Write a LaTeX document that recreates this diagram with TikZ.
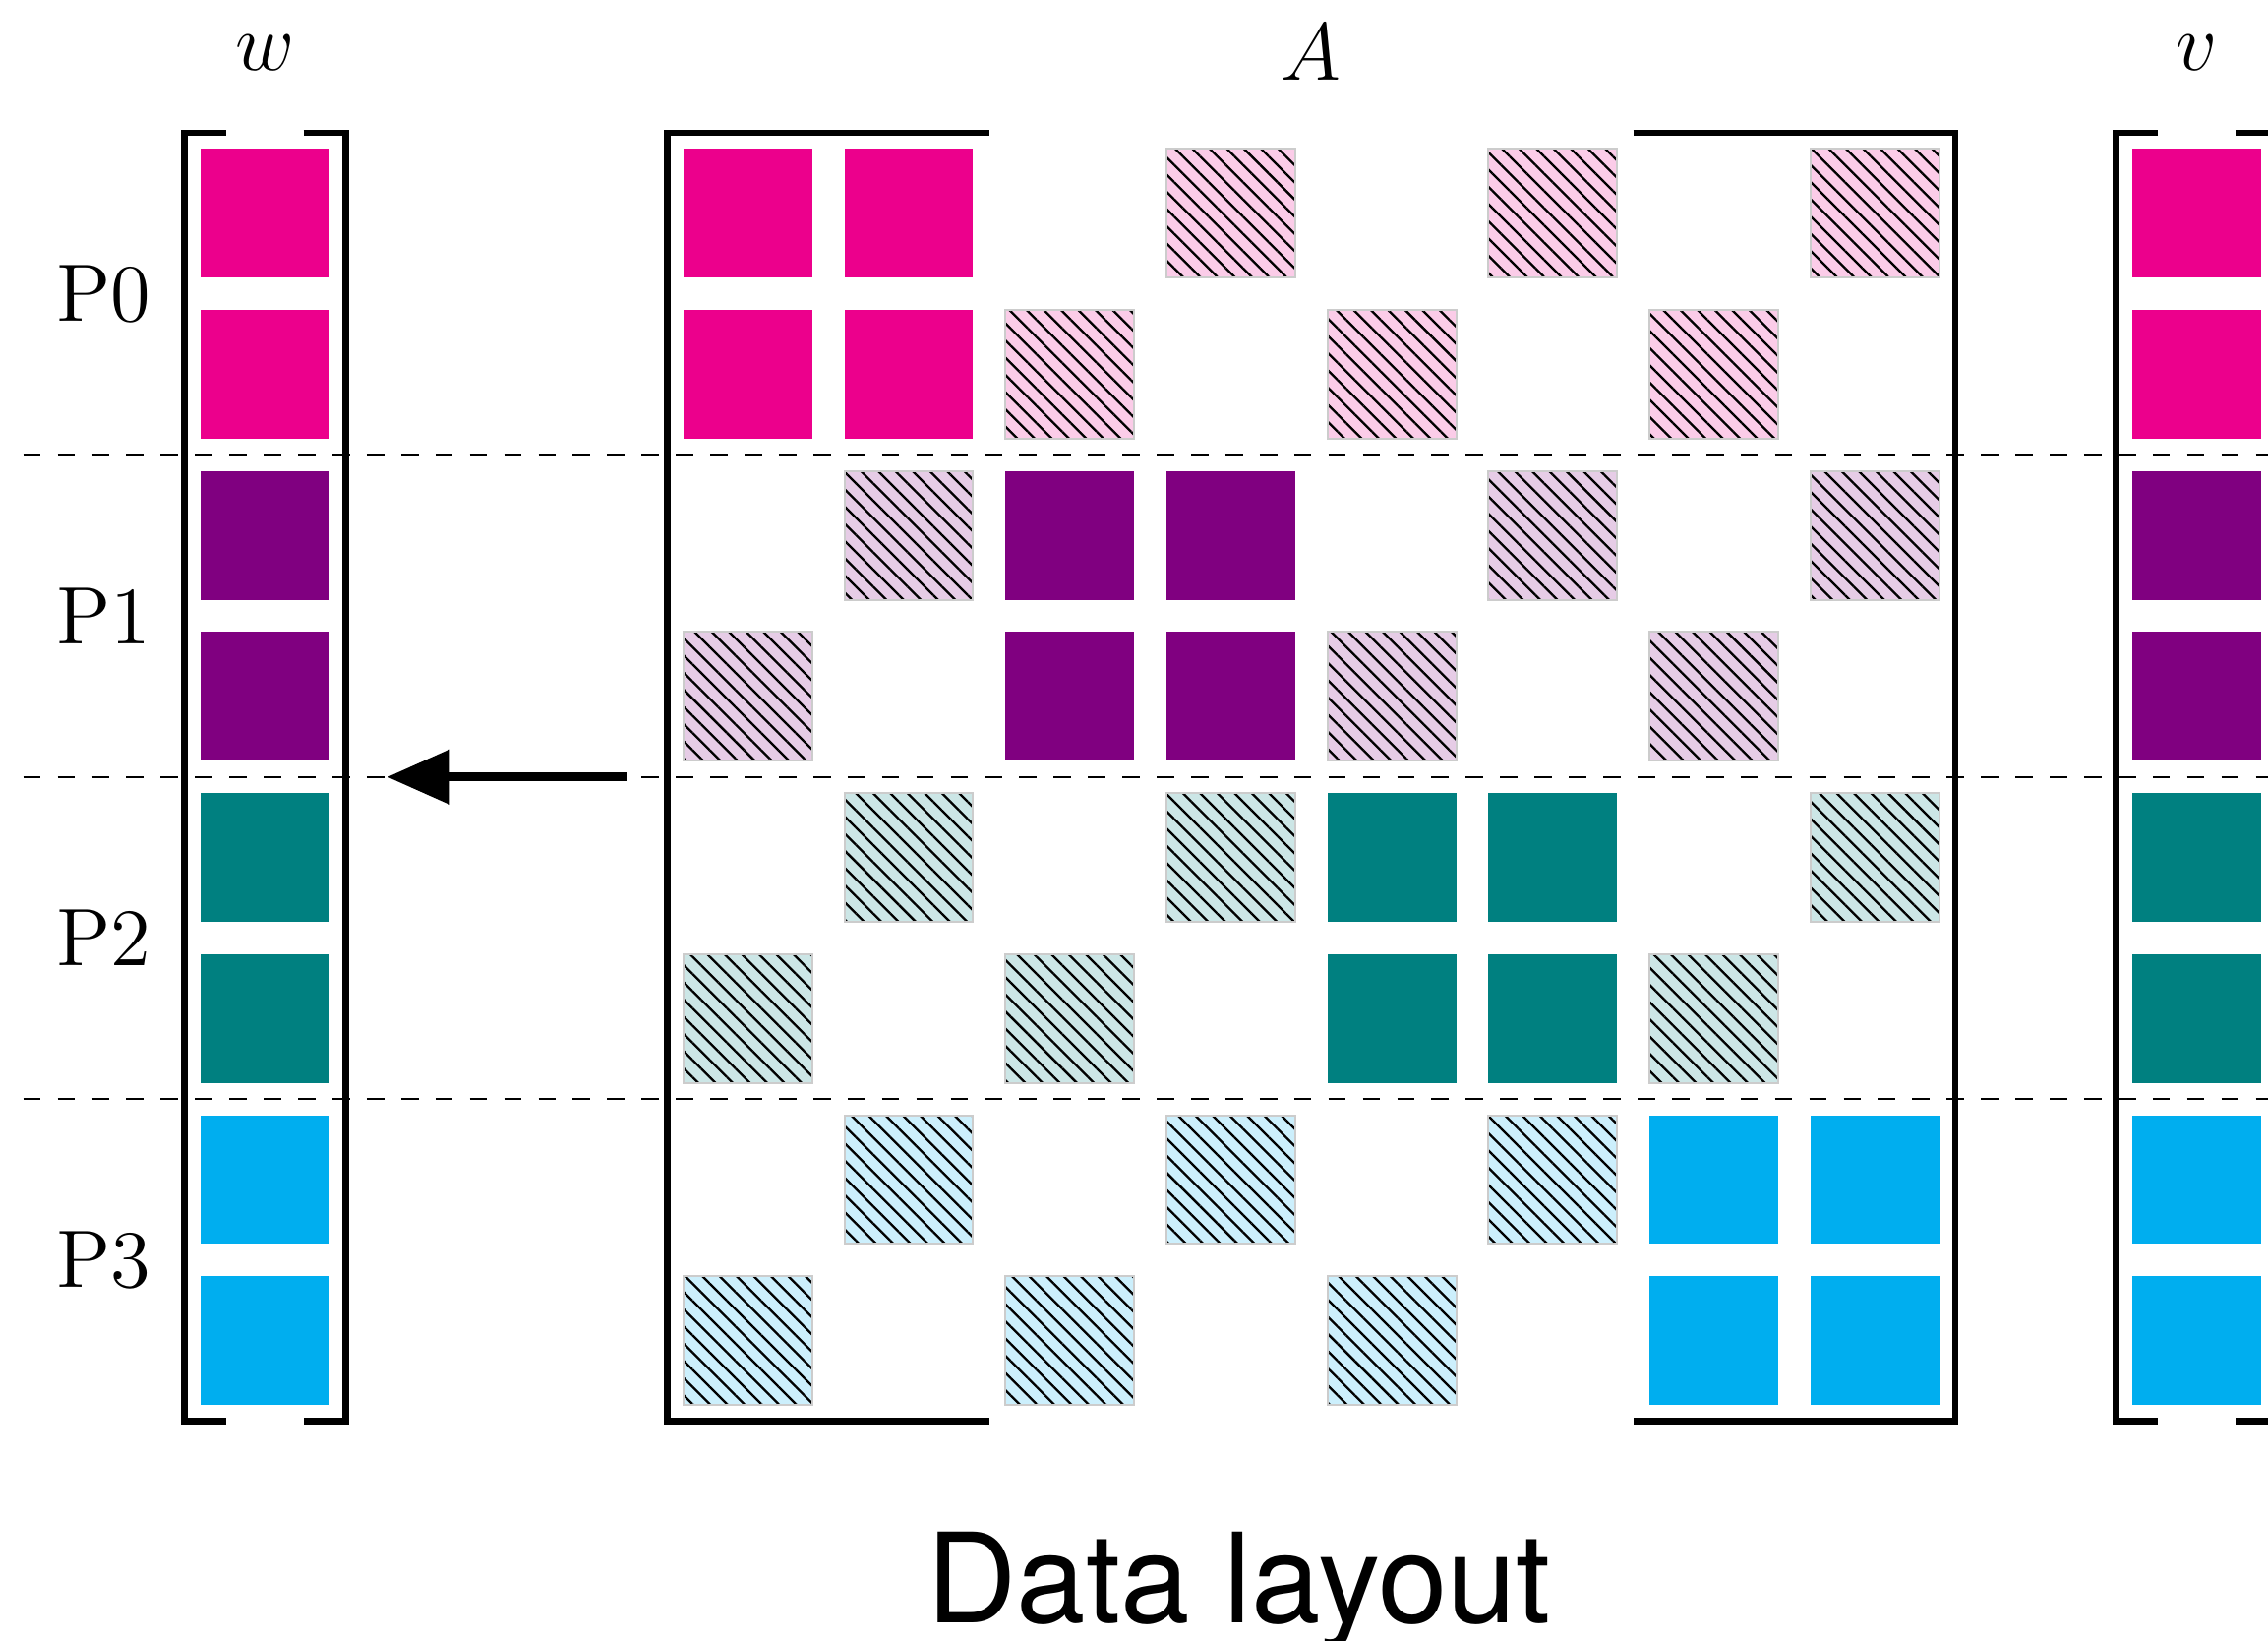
\documentclass[tikz,border=0pt]{standalone}
\usepackage{fontspec}
\newfontfamily\captionfont{TeX Gyre Heros}
\usetikzlibrary{arrows.meta,patterns.meta}
\definecolor{proc0}{HTML}{EC008C}
\definecolor{proc1}{HTML}{800080}
\definecolor{proc2}{HTML}{008080}
\definecolor{proc3}{HTML}{00AEEF}
\tikzset{
% Two cell styles: block owned by a process (solid) and off-diagonal block (hatched)
solid cell/.style={minimum size=0.8cm,inner sep=0,outer sep=0,fill=#1},
hatched cell/.style={minimum size=0.8cm,inner sep=0,outer sep=0,draw=black!20,line width=0.35pt,
  preaction={fill=#1!20},pattern={Lines[angle=-45,distance=2.15pt,line width=0.4pt]},pattern color=black},
bracket/.style={line width=1.2pt,line join=miter},
proc line/.style={line width=0.4pt,dash pattern=on 3.07pt off 3pt},
gather arrow/.style={line width=1.55pt,-{Triangle[length=0.39cm,width=0.33cm]}}
}

\begin{document}
\begin{tikzpicture}[font=\fontsize{14.4}{17}\selectfont]
        \useasboundingbox (-4.645,-8.863) rectangle (9.443,1.325);
        \clip (-4.645,-8.863) rectangle (9.443,1.325);
        % Separators between the processes
        \foreach \y in {1.5,3.5,5.5}
          \draw[proc line] (-4.5,-\y) -- (9.6,-\y);
        % The vectors w, v and the matrix A, row by row
        \foreach \r/\k in {0/0,1/0,2/1,3/1,4/2,5/2,6/3,7/3}{
          \node[solid cell=proc\k] (w-\r) at (-3,-\r) {};
          \node[solid cell=proc\k] (v-\r) at (9,-\r) {};
          \foreach \c in {0,...,7}{
            \pgfmathtruncatemacro{\cb}{int(\c/2)}
            \pgfmathtruncatemacro{\odd}{mod(\r+\c,2)}
            \ifnum\cb=\k
              \node[solid cell=proc\k] (A-\r-\c) at (\c,-\r) {};
            \else\ifnum\odd=1
              \node[hatched cell=proc\k] (A-\r-\c) at (\c,-\r) {};
            \fi\fi
          }
        }
        % Brackets
        \draw[bracket] (-3.24,0.5) -| (-3.5,-7.5) -- (-3.24,-7.5);
        \draw[bracket] (-2.76,0.5) -| (-2.5,-7.5) -- (-2.76,-7.5);
        \draw[bracket] (1.5,0.5) -| (-0.5,-7.5) -- (1.5,-7.5);
        \draw[bracket] (5.5,0.5) -| (7.5,-7.5) -- (5.5,-7.5);
        \draw[bracket] (8.76,0.5) -| (8.5,-7.5) -- (8.76,-7.5);
        \draw[bracket] (9.24,0.5) -| (9.5,-7.5) -- (9.24,-7.5);
        % Labels
        \node (w label) at (-3,1) {$w$};
        \node (A label) at (3.5,1) {$A$};
        \node (v label) at (9,1) {$v$};
        \foreach \k in {0,...,3}
          \node (P\k) at (-4,{-2*\k-0.5}) {P\k};
        % Result goes back to w
        \coordinate (from A) at (-0.75,-3.5);
        \coordinate (to w) at (-2.24,-3.5);
        \draw[gather arrow] (from A) -- (to w);
        \node[anchor=base,font=\captionfont\fontsize{22}{26}\selectfont] (caption) at (3.05,-8.754) {Data layout};
      \end{tikzpicture}
\end{document}
